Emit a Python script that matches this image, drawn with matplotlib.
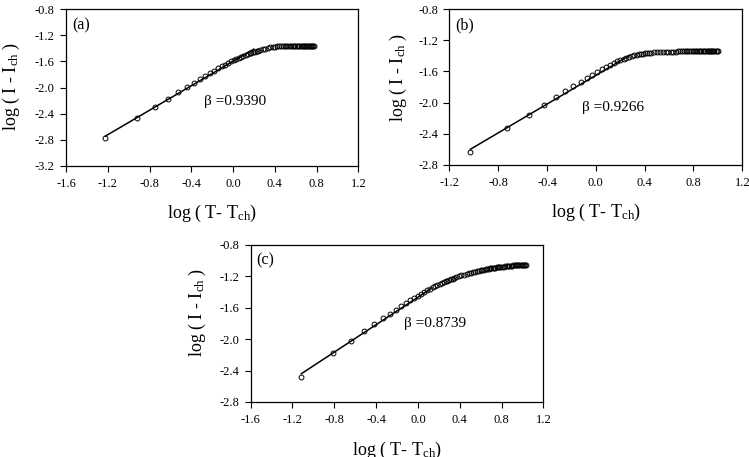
import matplotlib
matplotlib.use('Agg')
import matplotlib.pyplot as plt

plt.rcParams['font.family'] = 'Liberation Serif'
plt.rcParams['mathtext.fontset'] = 'custom'
plt.rcParams['mathtext.rm'] = 'Liberation Serif'
plt.rcParams['mathtext.it'] = 'Liberation Serif:italic'
plt.rcParams['axes.unicode_minus'] = False

# panel (a) data: log(T - Tch), log(I - Ich)
xa = [-1.222, -0.921, -0.745, -0.620, -0.523, -0.444, -0.377, -0.319, -0.268, -0.222,
      -0.180, -0.143, -0.108, -0.076, -0.046, -0.018, 0.009, 0.033, 0.057, 0.079,
      0.100, 0.121, 0.140, 0.158, 0.176, 0.193, 0.210, 0.225, 0.241, 0.255,
      0.283, 0.310, 0.334, 0.358, 0.380, 0.401, 0.422, 0.441, 0.459, 0.477,
      0.494, 0.511, 0.526, 0.542, 0.556, 0.571, 0.584, 0.598, 0.611, 0.623,
      0.636, 0.647, 0.659, 0.670, 0.681, 0.692, 0.702, 0.713, 0.723, 0.732,
      0.742, 0.751, 0.760, 0.769, 0.778]
ya = [-2.772, -2.471, -2.295, -2.170, -2.073, -1.994, -1.930, -1.873, -1.824, -1.780,
      -1.741, -1.707, -1.675, -1.647, -1.622, -1.599, -1.577, -1.559, -1.542, -1.526,
      -1.512, -1.499, -1.488, -1.477, -1.468, -1.459, -1.451, -1.444, -1.437, -1.428,
      -1.415, -1.402, -1.392, -1.384, -1.377, -1.372, -1.369, -1.367, -1.365, -1.364,
      -1.363, -1.362, -1.362, -1.361, -1.361, -1.360, -1.360, -1.360, -1.360, -1.360,
      -1.360, -1.360, -1.360, -1.360, -1.360, -1.360, -1.360, -1.360, -1.360, -1.360,
      -1.360, -1.360, -1.360, -1.360, -1.360]

# panel (b)
xb = [-1.028, -0.727, -0.551, -0.426, -0.329, -0.250, -0.183, -0.125, -0.074, -0.028,
      0.013, 0.051, 0.086, 0.118, 0.148, 0.176, 0.202, 0.227, 0.251, 0.273,
      0.294, 0.314, 0.334, 0.352, 0.370, 0.387, 0.403, 0.419, 0.434, 0.449,
      0.477, 0.504, 0.528, 0.552, 0.574, 0.595, 0.616, 0.635, 0.653, 0.671,
      0.688, 0.704, 0.720, 0.735, 0.750, 0.764, 0.778, 0.792, 0.805, 0.817,
      0.829, 0.841, 0.853, 0.864, 0.875, 0.886, 0.896, 0.907, 0.917, 0.926,
      0.936, 0.945, 0.954, 0.963, 0.972, 0.981, 0.989, 0.997]
yb = [-2.633, -2.332, -2.156, -2.031, -1.934, -1.855, -1.788, -1.733, -1.684, -1.640,
      -1.602, -1.568, -1.538, -1.512, -1.489, -1.469, -1.451, -1.436, -1.422, -1.411,
      -1.402, -1.394, -1.386, -1.380, -1.375, -1.371, -1.367, -1.364, -1.361, -1.358,
      -1.354, -1.352, -1.349, -1.347, -1.346, -1.345, -1.344, -1.343, -1.343, -1.342,
      -1.342, -1.341, -1.341, -1.341, -1.340, -1.340, -1.340, -1.340, -1.340, -1.340,
      -1.340, -1.340, -1.340, -1.340, -1.340, -1.340, -1.340, -1.340, -1.340, -1.340,
      -1.340, -1.340, -1.340, -1.340, -1.340, -1.340, -1.340, -1.340]

# panel (c)
xc = [-1.115, -0.814, -0.638, -0.513, -0.416, -0.337, -0.270, -0.212, -0.161, -0.115,
      -0.074, -0.036, -0.001, 0.031, 0.061, 0.089, 0.115, 0.140, 0.164, 0.186,
      0.207, 0.227, 0.247, 0.265, 0.283, 0.300, 0.316, 0.332, 0.347, 0.362,
      0.390, 0.416, 0.441, 0.465, 0.487, 0.508, 0.528, 0.548, 0.566, 0.584,
      0.601, 0.617, 0.633, 0.648, 0.663, 0.677, 0.691, 0.704, 0.718, 0.730,
      0.742, 0.754, 0.766, 0.777, 0.788,
      0.804, 0.820, 0.834, 0.849, 0.863, 0.876, 0.889, 0.902, 0.914, 0.926,
      0.938, 0.950, 0.961, 0.971, 0.982, 0.992, 1.002, 1.012, 1.022, 1.031]
yc = [-2.477, -2.179, -2.020, -1.898, -1.808, -1.736, -1.677, -1.625, -1.580, -1.540,
      -1.504, -1.472, -1.444, -1.418, -1.395, -1.374, -1.356, -1.339, -1.324, -1.310,
      -1.297, -1.285, -1.273, -1.263, -1.253, -1.244, -1.235, -1.227, -1.220, -1.213,
      -1.200, -1.188, -1.178, -1.168, -1.160, -1.152, -1.145, -1.138, -1.133, -1.127,
      -1.122, -1.118, -1.113, -1.110, -1.106, -1.103, -1.099, -1.096, -1.093, -1.091,
      -1.089, -1.086, -1.084, -1.082, -1.080,
      -1.077, -1.075, -1.072, -1.070, -1.068, -1.066, -1.064, -1.063, -1.061, -1.060,
      -1.059, -1.057, -1.056, -1.055, -1.054, -1.053, -1.053, -1.052, -1.051, -1.050]

betas = [0.9390, 0.9266, 0.8739]
# fitted line: start point and end x
fit_x0 = [-1.222, -1.028, -1.115]
fit_y0 = [-2.745, -2.602, -2.440]
fit_x1 = [0.20, 0.28, 0.12]

labels = ['(a)', '(b)', '(c)']
xticks = [[-1.6, -1.2, -0.8, -0.4, 0.0, 0.4, 0.8, 1.2],
          [-1.2, -0.8, -0.4, 0.0, 0.4, 0.8, 1.2],
          [-1.6, -1.2, -0.8, -0.4, 0.0, 0.4, 0.8, 1.2]]
yticks = [[-3.2, -2.8, -2.4, -2.0, -1.6, -1.2, -0.8],
          [-2.8, -2.4, -2.0, -1.6, -1.2, -0.8],
          [-2.8, -2.4, -2.0, -1.6, -1.2, -0.8]]
beta_pos = [(-0.278, -2.21), (-0.113, -2.064), (-0.133, -1.794)]

positions = [[0.0881, 0.6374, 0.3903, 0.3422],
             [0.5999, 0.6396, 0.3912, 0.3400],
             [0.3347, 0.1204, 0.3907, 0.3435]]
ylab_y = [0.51, 0.56, 0.57]
ylab_x = [-0.150, -0.137, -0.147]

fig = plt.figure(figsize=(7.49, 4.57), dpi=100)

data = [(xa, ya), (xb, yb), (xc, yc)]
for i in range(3):
    ax = fig.add_axes(positions[i])
    x, y = data[i]
    ax.plot(x, y, 'o', mfc='none', mec='black', ms=3.5, mew=0.7, zorder=3)
    b = betas[i]
    x0, y0, x1 = fit_x0[i], fit_y0[i], fit_x1[i]
    ax.plot([x0, x1], [y0, y0 + b * (x1 - x0)], '-', color='black', lw=1.1, zorder=2)

    ax.set_xlim(xticks[i][0], xticks[i][-1])
    ax.set_ylim(yticks[i][0], yticks[i][-1])
    ax.set_xticks(xticks[i])
    ax.set_yticks(yticks[i])
    ax.set_xticklabels(['%.1f' % v for v in xticks[i]])
    ax.set_yticklabels(['%.1f' % v for v in yticks[i]])
    ax.tick_params(direction='out', length=4.5, width=0.8, labelsize=9)
    ax.tick_params(axis='x', pad=4.5)
    ax.tick_params(axis='y', pad=3.5)
    for s in ax.spines.values():
        s.set_linewidth(0.9)

    ax.set_xlabel(r'log ( T- T$_{\mathrm{ch}}$)', fontsize=13)
    ax.set_ylabel(r'log ( I - I$_{\mathrm{ch}}$ )', fontsize=13)
    ax.xaxis.set_label_coords(0.5, -0.24)
    ax.yaxis.set_label_coords(ylab_x[i], ylab_y[i])

    ax.text(0.02, 0.95, labels[i], transform=ax.transAxes, va='top', ha='left', fontsize=11.5)
    bx, by = beta_pos[i]
    ax.text(bx, by, 'β =%.4f' % b, va='center', ha='left', fontsize=11)

fig.savefig('out.png', dpi=100)
